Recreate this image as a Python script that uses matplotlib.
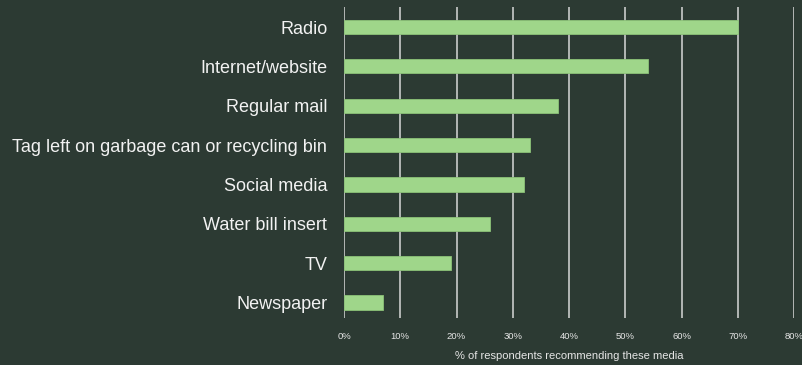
import matplotlib.pyplot as plt

# Survey results: preferred media for outreach
media = ["Radio", "Internet/website", "Regular mail",
         "Tag left on garbage can or recycling bin", "Social media",
         "Water bill insert", "TV", "Newspaper"]
percent = [70, 54, 38, 33, 32, 26, 19, 7]
ticks = [0, 10, 20, 30, 40, 50, 60, 70, 80]
tick_labels = ["0%", "10%", "20%", "30%", "40%", "50%", "60%", "70%", "80%"]

bg = "#2c3a33"
bar_color = "#9fd68a"
text_color = "#f2f2f2"

plt.rcParams["font.family"] = ["Liberation Sans", "DejaVu Sans"]

fig = plt.figure(figsize=(8.03, 3.65), dpi=100, facecolor=bg)
ax = fig.add_axes([0.4284, 0.129, 0.5604, 0.852], facecolor=bg)

# vertical grid drawn under the bars
for t in ticks:
  ax.axvline(t, color="#d8d8d8", linewidth=1.1, zorder=1)

y = list(range(len(media)))
ax.barh(y, percent, height=0.36, color=bar_color, edgecolor="#8cc278",
        linewidth=0.6, zorder=2)

ax.set_xlim(0, 80)
ax.set_ylim(len(media) - 1 + 0.39, -0.51)

ax.set_yticks(y)
ax.set_yticklabels(media, fontsize=13, color=text_color)
ax.set_xticks(ticks)
ax.set_xticklabels(tick_labels, fontsize=6.8, color="#e6e6e6")
ax.tick_params(axis="both", length=0)
ax.tick_params(axis="y", pad=12)
ax.tick_params(axis="x", pad=10)
ax.set_xlabel("% of respondents recommending these media", fontsize=8,
              color="#e6e6e6", labelpad=7)

for spine in ax.spines.values():
  spine.set_visible(False)

plt.savefig("out.png", dpi=100, facecolor=bg)
plt.close()
